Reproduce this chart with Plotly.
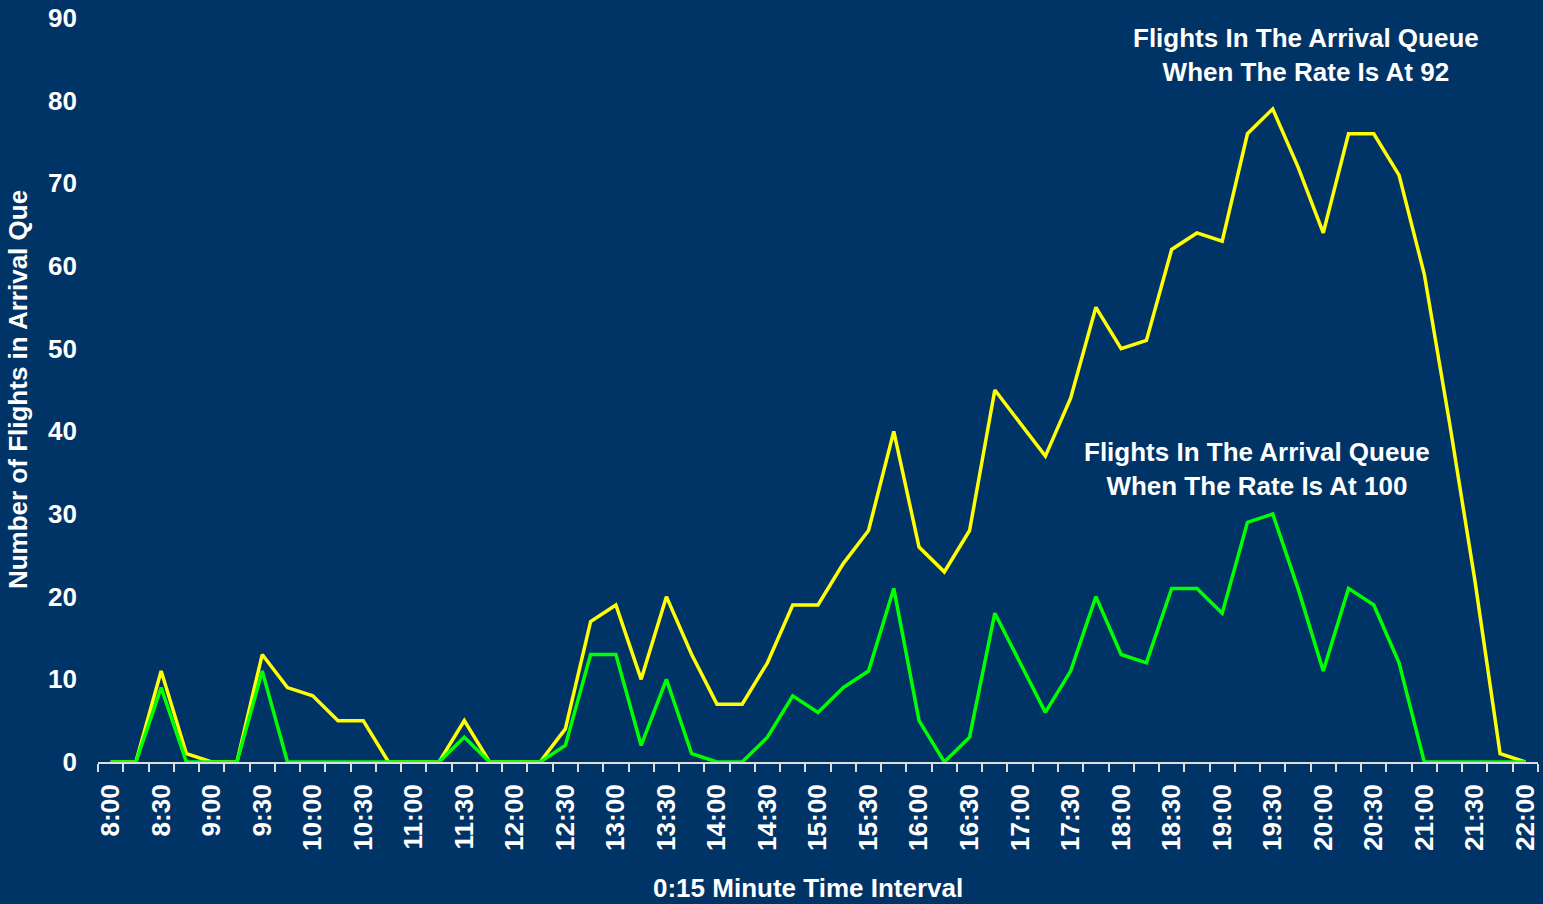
import plotly.graph_objects as go

times = []
for h in range(8, 23):
    for m in (0, 15, 30, 45):
        if h == 22 and m > 0:
            break
        times.append(f"{h}:{m:02d}")

tick_labels = [t if i % 2 == 0 else "" for i, t in enumerate(times)]

queue_rate_92 = [0, 0, 11, 1, 0, 0, 13, 9, 8, 5, 5, 0, 0, 0, 5, 0, 0, 0, 4, 17,
                 19, 10, 20, 13, 7, 7, 12, 19, 19, 24, 28, 40, 26, 23, 28, 45, 41, 37, 44, 55,
                 50, 51, 62, 64, 63, 76, 79, 72, 64, 76, 76, 71, 59, 41, 22, 1, 0]
queue_rate_100 = [0, 0, 9, 0, 0, 0, 11, 0, 0, 0, 0, 0, 0, 0, 3, 0, 0, 0, 2, 13,
                  13, 2, 10, 1, 0, 0, 3, 8, 6, 9, 11, 21, 5, 0, 3, 18, 12, 6, 11, 20,
                  13, 12, 21, 21, 18, 29, 30, 21, 11, 21, 19, 12, 0, 0, 0, 0, 0]

BG = "#003366"
FONT = "Liberation Sans, Arial, sans-serif"
TXT = dict(family=FONT, size=26, color="white", weight="bold")

fig = go.Figure()
fig.add_trace(go.Scatter(x=times, y=queue_rate_92, mode="lines",
                         line=dict(color="#FFFF00", width=3.5), cliponaxis=False,
                         name="Rate 92"))
fig.add_trace(go.Scatter(x=times, y=queue_rate_100, mode="lines",
                         line=dict(color="#00FF00", width=3.5), cliponaxis=False,
                         name="Rate 100"))

fig.add_annotation(text="Flights In The Arrival Queue<br>When The Rate Is At 92",
                   xref="paper", yref="paper", x=0.8386, y=0.950,
                   showarrow=False, xanchor="center", yanchor="middle", font=TXT)
fig.add_annotation(text="Flights In The Arrival Queue<br>When The Rate Is At 100",
                   xref="paper", yref="paper", x=0.8047, y=0.394,
                   showarrow=False, xanchor="center", yanchor="middle", font=TXT)
# axis titles
fig.add_annotation(text="Number of Flights in Arrival Que", textangle=-90,
                   xref="paper", yref="paper", x=-0.0555, y=0.5,
                   showarrow=False, xanchor="center", yanchor="middle", font=TXT)
fig.add_annotation(text="0:15 Minute Time Interval",
                   xref="paper", yref="paper", x=0.493, y=-0.169,
                   showarrow=False, xanchor="center", yanchor="middle", font=TXT)

fig.update_layout(
    width=1543, height=904,
    paper_bgcolor=BG, plot_bgcolor=BG,
    showlegend=False,
    margin=dict(l=98, r=3, t=18, b=142),
    font=dict(family=FONT, color="white"),
    xaxis=dict(
        type="category", categoryorder="array", categoryarray=times,
        tickvals=times, ticktext=tick_labels, tickson="boundaries",
        ticks="outside", ticklen=8, tickcolor="#DDDDDD", tickwidth=2,
        ticklabelstandoff=10,
        tickangle=-90, tickfont=TXT,
        showline=True, linecolor="#DDDDDD", linewidth=2, showgrid=False, zeroline=False,
        range=[-0.5, len(times) - 0.5],
    ),
    yaxis=dict(
        range=[0, 90], dtick=10, showgrid=False, zeroline=False, showline=False,
        ticks="", ticklabelstandoff=20, tickfont=TXT,
    ),
)

fig.write_html("out.html", config={"displayModeBar": False},
               post_script="document.body.style.margin='0';document.body.style.overflow='hidden';")
